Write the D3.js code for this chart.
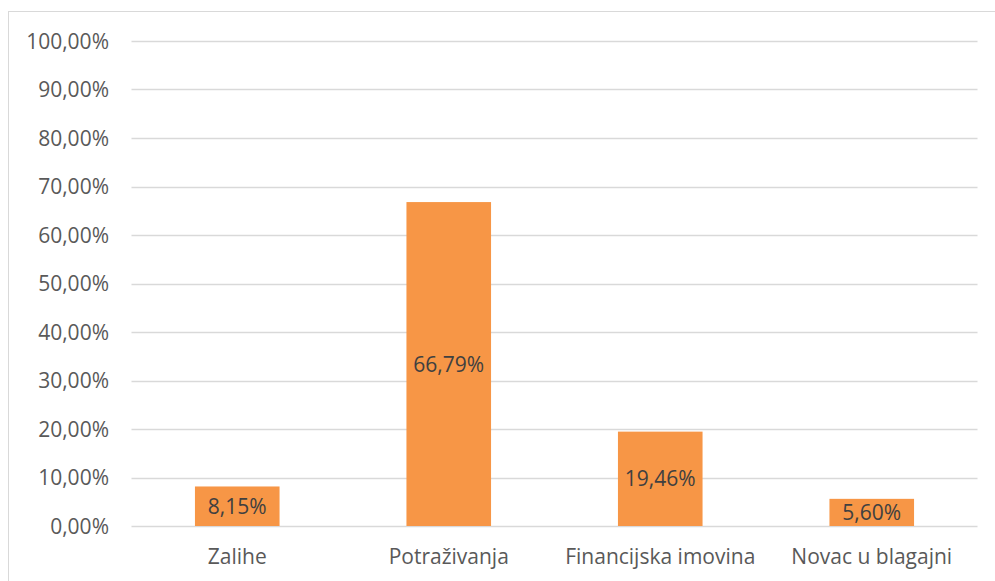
<!DOCTYPE html>
<html><head><meta charset="utf-8">
<script src="https://cdn.jsdelivr.net/npm/d3@7"></script>
<style>
html,body{margin:0;padding:0;background:#fff;}
svg{display:block;}
text{font-family:"Open Sans",sans-serif;}
</style></head>
<body>
<svg id="chart" width="995" height="581"></svg>
<script>
const categories = ["Zalihe", "Potraživanja", "Financijska imovina", "Novac u blagajni"];
const values = [8.15, 66.79, 19.46, 5.60];
const yTicks = [0, 10, 20, 30, 40, 50, 60, 70, 80, 90, 100];

(function () {
const svg = d3.select("#chart");
const mLeft = 131.5, mRight = 977.5, mTop = 41, mBottom = 526;

// outer border
svg.append("rect").attr("x", 8.5).attr("y", 11.5).attr("width", 1000).attr("height", 600)
  .attr("fill", "#fff").attr("stroke", "#D9D9D9").attr("stroke-width", 1);

const x = d3.scaleBand().domain(categories).range([mLeft, mRight]).padding(0);
const y = d3.scaleLinear().domain([0, 100]).range([mBottom, mTop]);
const fmt = v => v.toFixed(2).replace(".", ",") + "%";

// gridlines
svg.append("g").selectAll("line").data(yTicks).join("line")
  .attr("x1", mLeft).attr("x2", mRight)
  .attr("y1", d => Math.round(y(d)) + 0.5).attr("y2", d => Math.round(y(d)) + 0.5)
  .attr("stroke", "#D9D9D9").attr("stroke-width", 1.3);

// y tick labels
svg.append("g").selectAll("text").data(yTicks).join("text")
  .attr("x", 109).attr("y", d => y(d)).attr("dy", "0.36em")
  .attr("text-anchor", "end").attr("fill", "#595959").attr("font-size", 21)
  .text(d => fmt(d));

// bars
const bw = x.bandwidth() * 0.4;
svg.append("g").selectAll("rect").data(values).join("rect")
  .attr("x", (d, i) => x(categories[i]) + x.bandwidth() / 2 - bw / 2)
  .attr("width", bw)
  .attr("y", d => y(d)).attr("height", d => y(0) - y(d))
  .attr("fill", "#F79646");

// data labels
svg.append("g").selectAll("text").data(values).join("text")
  .attr("x", (d, i) => x(categories[i]) + x.bandwidth() / 2)
  .attr("y", d => (y(d) + y(0)) / 2).attr("dy", "0.36em")
  .attr("text-anchor", "middle").attr("fill", "#404040").attr("font-size", 21)
  .text(d => fmt(d));

// x labels
svg.append("g").selectAll("text").data(categories).join("text")
  .attr("x", d => x(d) + x.bandwidth() / 2).attr("y", 564)
  .attr("text-anchor", "middle").attr("fill", "#595959").attr("font-size", 21)
  .text(d => d);
})();
</script>
</body></html>
